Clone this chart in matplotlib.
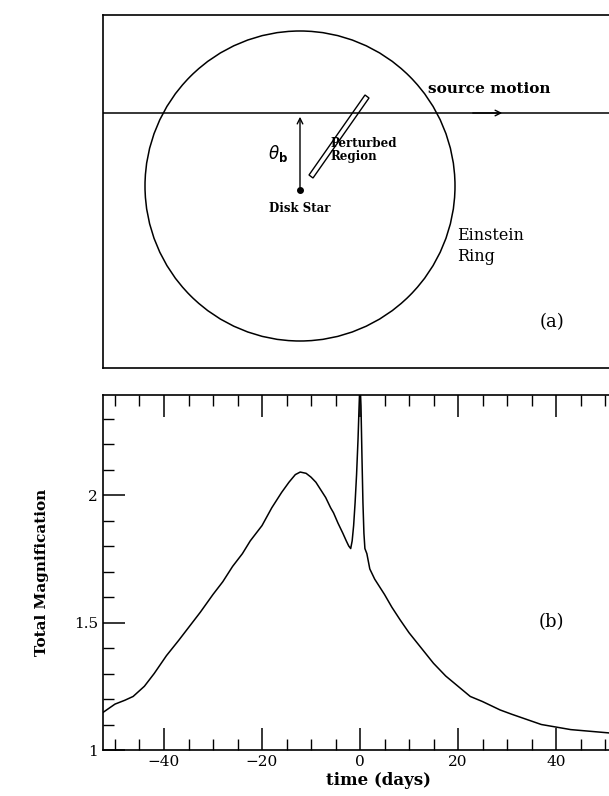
import matplotlib
matplotlib.use("Agg")
import matplotlib.pyplot as plt
from matplotlib.patches import Circle, Polygon

plt.rcParams['font.family'] = ['DejaVu Serif']

time_days = [-53, -50, -48, -46.3, -44, -42, -39.5, -37, -35, -32.6, -30, -28, -26, -24, -22.4,
             -20, -18, -16, -14.5, -13.2, -12.2, -11, -10, -9, -8, -7, -6, -5.4, -4.5, -3.5, -2.8,
             -2.3, -1.9, -1.6, -1.3, -1.0, -0.7, -0.4, -0.2, 0.0, 0.2, 0.4, 0.6, 0.8, 1.0,
             1.4, 2.0, 3, 4, 5, 6.5, 8.2, 10, 12.5, 15, 17.5, 20, 22.5, 25, 28.6, 31, 34, 37, 40,
             43, 46, 50.8, 55, 60]
magnification = [1.14, 1.18, 1.195, 1.21, 1.25, 1.30, 1.37, 1.43, 1.48, 1.54, 1.61, 1.66, 1.72, 1.77, 1.82,
                 1.88, 1.95, 2.01, 2.05, 2.08, 2.09, 2.085, 2.07, 2.05, 2.02, 1.99, 1.95, 1.93, 1.89, 1.85, 1.82,
                 1.80, 1.79, 1.82, 1.88, 1.97, 2.08, 2.22, 2.34, 2.45, 2.35, 2.15, 1.97, 1.85, 1.79,
                 1.77, 1.71, 1.67, 1.64, 1.61, 1.56, 1.51, 1.46, 1.40, 1.34, 1.29, 1.25, 1.21, 1.19, 1.157, 1.14, 1.12, 1.10, 1.09,
                 1.08, 1.075, 1.067, 1.06, 1.055]

W, H = 609, 796
fig = plt.figure(figsize=(W/100, H/100), dpi=100)

# top panel (pixel-coordinate schematic)
x0, x1, y0, y1 = 103, 700, 15, 368
axa = fig.add_axes([x0/W, 1-y1/H, (x1-x0)/W, (y1-y0)/H])
axa.set_xlim(x0, x1); axa.set_ylim(y1, y0)
axa.set_xticks([]); axa.set_yticks([])
for s in axa.spines.values():
    s.set_linewidth(1.2)
axa.add_patch(Circle((300, 186), 155, fill=False, lw=1.1, color='k'))
axa.plot([x0, 700], [113, 113], color='k', lw=1.1)
axa.annotate('', xy=(505, 113), xytext=(470, 113),
             arrowprops=dict(arrowstyle='->', lw=1.0, color='k'))
axa.text(428, 96, 'source motion', fontsize=11, fontweight='bold', va='bottom')
axa.plot([300], [190], 'o', color='k', ms=4)
axa.annotate('', xy=(300, 114), xytext=(300, 190),
             arrowprops=dict(arrowstyle='->', lw=1.0, color='k'))
axa.text(278, 153, r'$\theta_{\mathbf{b}}$', fontsize=12, fontweight='bold', ha='center', va='center')
axa.text(300, 208, 'Disk Star', fontsize=8.5, fontweight='bold', ha='center', va='center')
axa.add_patch(Polygon([(309, 175), (313, 178), (369, 98), (365, 95)], closed=True,
                      fill=False, lw=1.0, color='k'))
axa.text(330, 150, 'Perturbed\nRegion', fontsize=8.5, fontweight='bold', va='center', linespacing=1.0)
axa.text(457, 246, 'Einstein\nRing', fontsize=11.5, va='center', linespacing=1.3)
axa.text(540, 322, '(a)', fontsize=13, va='center')

# bottom panel
px0 = 103
ppd = 4.9
xl, xr = -(360-px0)/ppd, 60
right_px = 360 + xr*ppd
axb = fig.add_axes([px0/W, 1-750/H, (right_px-px0)/W, (750-395)/H])
axb.plot(time_days, magnification, color='k', lw=1.1)
axb.set_xlim(xl, xr)
axb.set_ylim(1, 1 + 355/255)
axb.set_xticks([-40, -20, 0, 20, 40])
axb.set_xticks(range(-50, 61, 5), minor=True)
axb.set_yticks([1, 1.5, 2])
axb.set_yticklabels(['1', '1.5', '2'])
axb.set_yticks([1 + 0.1*i for i in range(14)], minor=True)
axb.tick_params(which='both', direction='in', top=True, right=True, labelsize=11)
axb.tick_params(which='major', length=16, width=1.1)
axb.tick_params(which='minor', length=8, width=1.0)
for s in axb.spines.values():
    s.set_linewidth(1.2)
axb.set_xlabel('time (days)', fontsize=12, fontweight='bold', labelpad=2)
axb.set_ylabel('Total Magnification', fontsize=11, fontweight='bold', labelpad=18)
axb.text(36.5, 1.5, '(b)', fontsize=13, va='center')

fig.savefig('out.png', dpi=100)
